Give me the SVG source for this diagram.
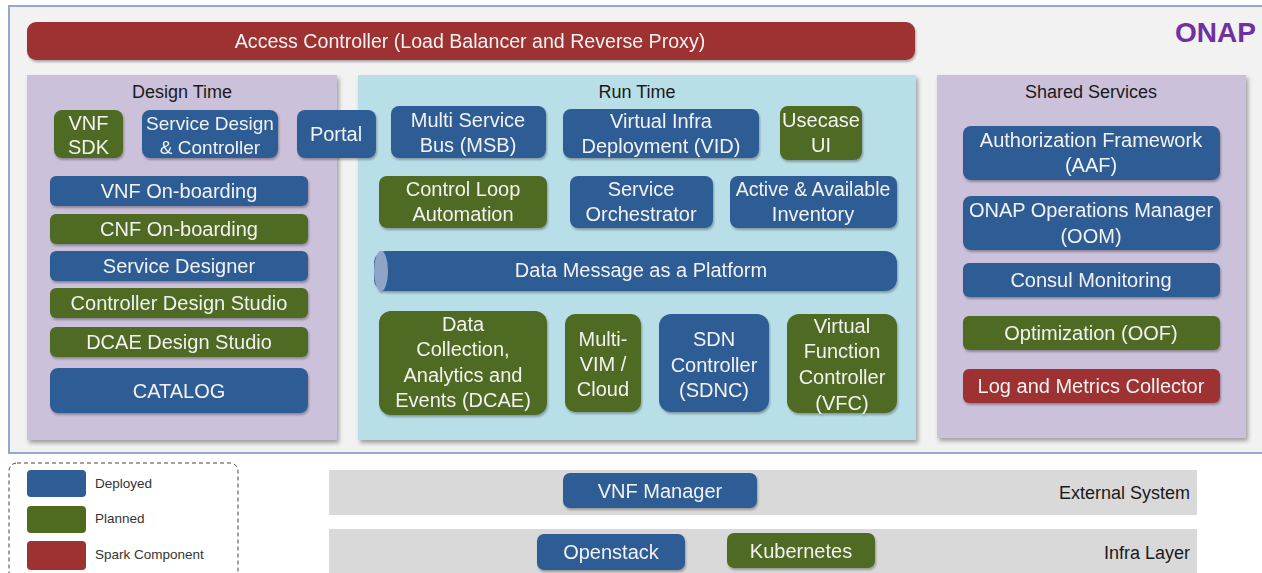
<svg xmlns="http://www.w3.org/2000/svg" width="1262" height="573" viewBox="0 0 1262 573">
<defs>
<filter id="sh" x="-10%" y="-10%" width="120%" height="130%"><feDropShadow dx="2" dy="3" stdDeviation="2" flood-color="#000" flood-opacity="0.35"/></filter>
<filter id="shs" x="-10%" y="-20%" width="120%" height="150%"><feDropShadow dx="1" dy="2" stdDeviation="1.2" flood-color="#000" flood-opacity="0.3"/></filter>
<style>
.t{font-family:"Liberation Sans",Arial,sans-serif;font-size:20px;fill:#f2f2f2;text-anchor:middle}
.h{font-family:"Liberation Sans",Arial,sans-serif;font-size:18px;fill:#1a1a1a;text-anchor:middle}
.r{font-family:"Liberation Sans",Arial,sans-serif;font-size:18px;fill:#1a1a1a;text-anchor:end}
.lg{font-family:"Liberation Sans Narrow","Liberation Sans",Arial,sans-serif;font-size:13.5px;fill:#333}
.b{fill:#2f5d95}
.g{fill:#4f6b20}
.rd{fill:#9e3131}
.n{filter:url(#shs)}
</style>
</defs>
<rect x="0" y="0" width="1262" height="573" fill="#ffffff"/>
<rect id="frame" x="9" y="6" width="1260" height="447" fill="#f2f2f2" stroke="#8fa9cf" stroke-width="2"/>
<text x="1256" y="42" font-family="'Liberation Sans',Arial,sans-serif" font-size="28" font-weight="bold" fill="#7030a0" text-anchor="end">ONAP</text>

<g id="access-controller" class="n"><rect x="27" y="22" width="888" height="38" rx="9" class="rd"/><text class="t" x="470" y="48" style="font-size:19.6px">Access Controller (Load Balancer and Reverse Proxy)</text></g>

<g id="design-time"><rect x="27" y="75" width="310" height="365" fill="#ccc1da" filter="url(#sh)"/><text class="h" x="182" y="98">Design Time</text></g>
<g id="run-time"><rect x="358" y="75" width="558" height="365" fill="#b8dfe8" filter="url(#sh)"/><text class="h" x="637" y="98">Run Time</text></g>
<g id="shared-services"><rect x="937" y="75" width="309" height="363" fill="#ccc1da" filter="url(#sh)"/><text class="h" x="1091" y="98">Shared Services</text></g>

<g id="vnf-sdk" class="n"><rect x="54" y="110" width="69" height="48" rx="8" class="g"/><text class="t" x="88.5" y="130">VNF</text><text class="t" x="88.5" y="154">SDK</text></g>
<g id="sdc" class="n"><rect x="142" y="110" width="136" height="48" rx="8" class="b"/><text class="t" x="210" y="130" style="font-size:19px">Service Design</text><text class="t" x="210" y="154" style="font-size:19px">&amp; Controller</text></g>
<g id="portal" class="n"><rect x="297" y="110" width="79" height="48" rx="8" class="b"/><text class="t" x="336" y="141">Portal</text></g>
<g id="msb" class="n"><rect x="391" y="106" width="155" height="52" rx="8" class="b"/><text class="t" x="468" y="127">Multi Service</text><text class="t" x="468" y="152">Bus (MSB)</text></g>
<g id="vid" class="n"><rect x="563" y="109" width="196" height="49" rx="8" class="b"/><text class="t" x="661" y="128">Virtual Infra</text><text class="t" x="661" y="153">Deployment (VID)</text></g>
<g id="usecase-ui" class="n"><rect x="780" y="106" width="82" height="54" rx="8" class="g"/><text class="t" x="821" y="127">Usecase</text><text class="t" x="821" y="152">UI</text></g>

<g id="vnf-onboarding" class="n"><rect x="50" y="176" width="258" height="30" rx="6" class="b"/><text class="t" x="179" y="198">VNF On-boarding</text></g>
<g id="cnf-onboarding" class="n"><rect x="50" y="214" width="258" height="30" rx="6" class="g"/><text class="t" x="179" y="236">CNF On-boarding</text></g>
<g id="service-designer" class="n"><rect x="50" y="251" width="258" height="30" rx="6" class="b"/><text class="t" x="179" y="273">Service Designer</text></g>
<g id="cds" class="n"><rect x="50" y="288" width="258" height="30" rx="6" class="g"/><text class="t" x="179" y="310">Controller Design Studio</text></g>
<g id="dcae-ds" class="n"><rect x="50" y="327" width="258" height="30" rx="6" class="g"/><text class="t" x="179" y="349">DCAE Design Studio</text></g>
<g id="catalog" class="n"><rect x="50" y="368" width="258" height="45" rx="8" class="b"/><text class="t" x="179" y="398">CATALOG</text></g>

<g id="clamp" class="n"><rect x="379" y="176" width="168" height="52" rx="8" class="g"/><text class="t" x="463" y="196">Control Loop</text><text class="t" x="463" y="221">Automation</text></g>
<g id="so" class="n"><rect x="570" y="176" width="143" height="52" rx="8" class="b"/><text class="t" x="641" y="196">Service</text><text class="t" x="641" y="221">Orchestrator</text></g>
<g id="aai" class="n"><rect x="730" y="176" width="167" height="52" rx="8" class="b"/><text class="t" x="813" y="196" style="font-size:19.5px">Active &amp; Available</text><text class="t" x="813" y="221">Inventory</text></g>

<g id="dmaap" class="n"><rect x="374" y="251" width="523" height="40" rx="12" class="b"/><ellipse cx="381" cy="271" rx="7" ry="20" fill="#8fa4c6"/><text class="t" x="641" y="277">Data Message as a Platform</text></g>

<g id="dcae" class="n"><rect x="379" y="311" width="168" height="104" rx="12" class="g"/><text class="t" x="463" y="331">Data</text><text class="t" x="463" y="356">Collection,</text><text class="t" x="463" y="382">Analytics and</text><text class="t" x="463" y="407">Events (DCAE)</text></g>
<g id="multi-vim" class="n"><rect x="565" y="314" width="76" height="98" rx="10" class="g"/><text class="t" x="603" y="346">Multi-</text><text class="t" x="603" y="371">VIM /</text><text class="t" x="603" y="396">Cloud</text></g>
<g id="sdnc" class="n"><rect x="659" y="314" width="110" height="98" rx="12" class="b"/><text class="t" x="714" y="346">SDN</text><text class="t" x="714" y="372">Controller</text><text class="t" x="714" y="397">(SDNC)</text></g>
<g id="vfc" class="n"><rect x="787" y="314" width="110" height="99" rx="12" class="g"/><text class="t" x="842" y="333">Virtual</text><text class="t" x="842" y="358">Function</text><text class="t" x="842" y="384">Controller</text><text class="t" x="842" y="410">(VFC)</text></g>

<g id="aaf" class="n"><rect x="963" y="126" width="257" height="54" rx="8" class="b"/><text class="t" x="1091" y="147">Authorization Framework</text><text class="t" x="1091" y="172">(AAF)</text></g>
<g id="oom" class="n"><rect x="963" y="196" width="257" height="54" rx="8" class="b"/><text class="t" x="1091" y="217">ONAP Operations Manager</text><text class="t" x="1091" y="243">(OOM)</text></g>
<g id="consul" class="n"><rect x="963" y="263" width="257" height="34" rx="6" class="b"/><text class="t" x="1091" y="287">Consul Monitoring</text></g>
<g id="oof" class="n"><rect x="963" y="316" width="257" height="34" rx="6" class="g"/><text class="t" x="1091" y="340">Optimization (OOF)</text></g>
<g id="logging" class="n"><rect x="963" y="369" width="257" height="34" rx="6" class="rd"/><text class="t" x="1091" y="393">Log and Metrics Collector</text></g>

<g id="legend">
<rect x="9" y="463" width="229" height="120" rx="8" fill="none" stroke="#444" stroke-width="1" stroke-dasharray="4,3"/>
<rect x="27" y="470" width="59" height="27" rx="4" class="b"/><text class="lg" x="95" y="488">Deployed</text>
<rect x="27" y="506" width="59" height="27" rx="4" class="g"/><text class="lg" x="95" y="523">Planned</text>
<rect x="27" y="541" width="59" height="29" rx="4" class="rd"/><text class="lg" x="95" y="559">Spark Component</text>
</g>

<g id="external-system"><rect x="329" y="470" width="868" height="45" fill="#d9d9d9"/><text class="r" x="1190" y="499">External System</text></g>
<g id="vnf-manager" class="n"><rect x="563" y="473" width="194" height="35" rx="7" class="b"/><text class="t" x="660" y="498">VNF Manager</text></g>
<g id="infra-layer"><rect x="329" y="529" width="868" height="44" fill="#d9d9d9"/><text class="r" x="1190" y="559">Infra Layer</text></g>
<g id="openstack" class="n"><rect x="537" y="534" width="148" height="36" rx="7" class="b"/><text class="t" x="611" y="559">Openstack</text></g>
<g id="kubernetes" class="n"><rect x="727" y="533" width="148" height="35" rx="7" class="g"/><text class="t" x="801" y="558">Kubernetes</text></g>

<g id="connectors"></g>
</svg>
